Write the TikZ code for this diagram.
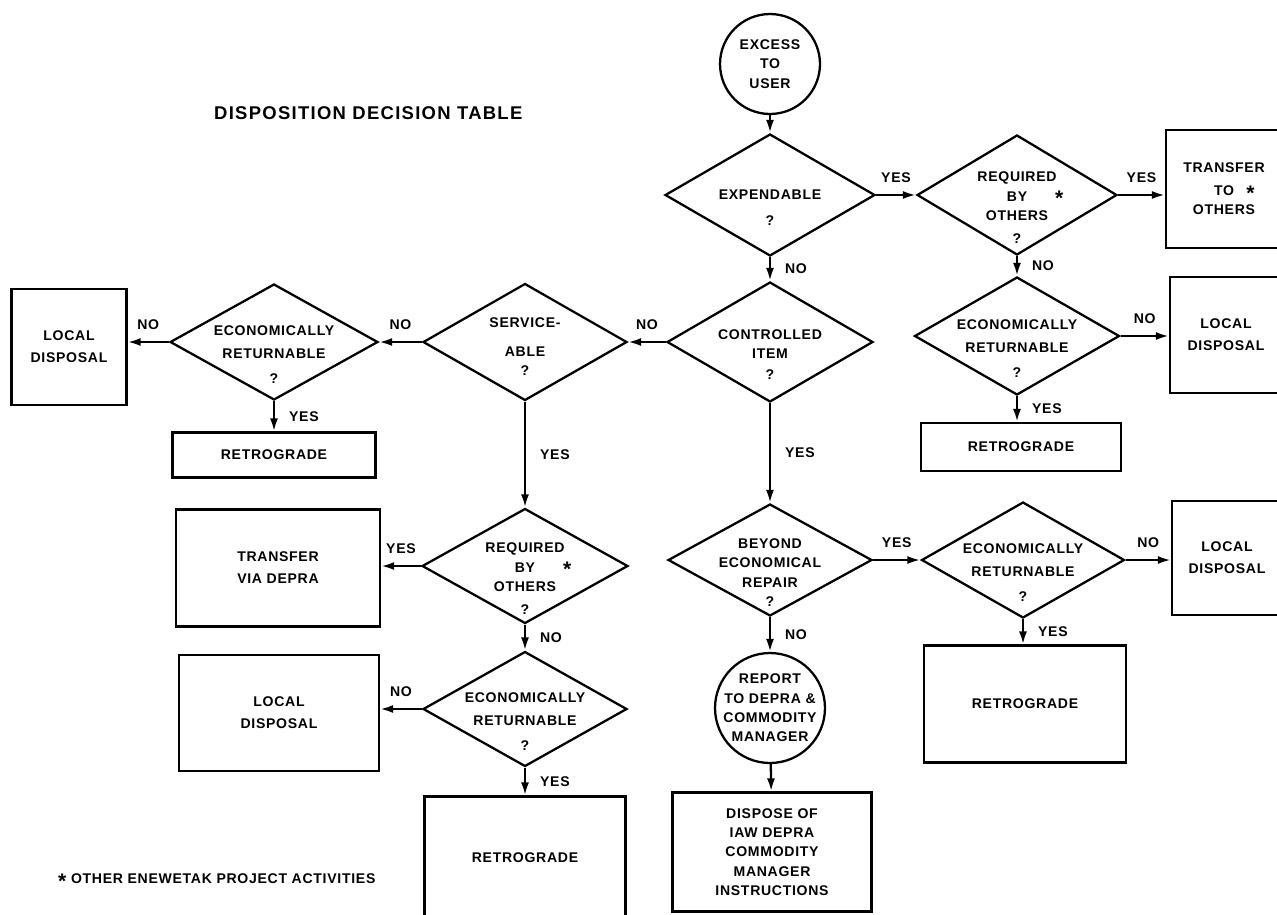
\documentclass[tikz,border=0pt]{standalone}
\usepackage{fontspec}
\newfontfamily\lblfont[LetterSpace=5]{Liberation Sans}
\newfontfamily\ttlfont[LetterSpace=7]{Liberation Sans}
\usetikzlibrary{shapes.geometric, arrows.meta}
\newcommand\lbl{\lblfont\bfseries\fontsize{8}{11}\selectfont}
\newcommand\ttlstyle{\ttlfont\bfseries\fontsize{10.5}{12}\selectfont}
\newcommand\starmark{\raisebox{-2.6pt}[4pt][0pt]{\fontsize{12}{12}\selectfont *}}
\newcommand\qtop[1][20pt]{\rule{0pt}{#1}}

\begin{document}
\begin{tikzpicture}[x=0.02cm, y=-0.02cm,
    every node/.style={font=\lbl},
    dec/.style={diamond, draw, line width=1.3pt, inner sep=-3cm, align=center},
    box/.style={rectangle, draw, line width=1.3pt, inner sep=0pt, align=center},
    term/.style={circle, draw, line width=1.3pt, inner sep=-4pt, align=center},
    arr/.style={-{Latex[length=0.26cm, width=0.16cm]}, line width=1.3pt},
    lab/.style={inner sep=0pt}
  ]
  \useasboundingbox (0,0) rectangle (1277,914);

  \node[anchor=west, font=\ttlstyle] (title) at (208,113) {DISPOSITION DECISION TABLE};

  % middle column
  \node[term, minimum size=2cm] (start) at (770,64) {EXCESS\\TO\\USER};
  \node[dec, minimum width=4.2cm, minimum height=2.44cm] (exp) at (770,195) {\qtop EXPENDABLE\\[4pt]?};
  \node[dec, minimum width=4.12cm, minimum height=2.4cm] (ctrl) at (770,342) {\qtop CONTROLLED\\ITEM\\[1pt]?};
  \node[dec, minimum width=4.08cm, minimum height=2.24cm] (beyond) at (770,560) {\qtop BEYOND\\ECONOMICAL\\REPAIR\\?};
  \node[term, minimum size=2.2cm] (report) at (770,708) {REPORT\\TO DEPRA \&\\COMMODITY\\MANAGER};
  \node[box, minimum width=3.98cm, minimum height=2.38cm] (dispose) at (772,852) {DISPOSE OF\\IAW DEPRA\\COMMODITY\\MANAGER\\INSTRUCTIONS};

  % right upper
  \node[dec, minimum width=4cm, minimum height=2.4cm] (req1) at (1017,195) {\qtop REQUIRED\\BY\rlap{\hspace{16pt}\starmark}\\OTHERS\\[2pt]?};
  \node[box, minimum width=2.32cm, minimum height=2.36cm] (transfer1) at (1224,189) {TRANSFER\\[2pt]TO\rlap{\hspace{7pt}\starmark}\\OTHERS};
  \node[dec, minimum width=4.1cm, minimum height=2.36cm] (econR1) at (1017,336) {\qtop ECONOMICALLY\\[2pt]RETURNABLE\\[3pt]?};
  \node[box, minimum width=2.24cm, minimum height=2.32cm] (localR1) at (1226,335) {LOCAL\\[1.5pt]DISPOSAL};
  \node[box, minimum width=4cm, minimum height=0.96cm] (retroR1) at (1021,447) {RETROGRADE};

  % right lower
  \node[dec, minimum width=4.06cm, minimum height=2.32cm] (econR2) at (1023,560) {\qtop ECONOMICALLY\\[2pt]RETURNABLE\\[3pt]?};
  \node[box, minimum width=2.2cm, minimum height=2.28cm] (localR2) at (1227,558) {LOCAL\\[1.5pt]DISPOSAL};
  \node[box, minimum width=4.04cm, minimum height=2.34cm] (retroR2) at (1025,704) {RETROGRADE};

  % left upper
  \node[dec, minimum width=4.08cm, minimum height=2.34cm] (serv) at (525,342) {\qtop[11pt]SERVICE-\\[5pt]ABLE\\?};
  \node[dec, minimum width=4.16cm, minimum height=2.32cm] (econL1) at (274,342) {\qtop ECONOMICALLY\\[2pt]RETURNABLE\\[3pt]?};
  \node[box, minimum width=2.3cm, minimum height=2.32cm] (localL1) at (69,347) {LOCAL\\[1.5pt]DISPOSAL};
  \node[box, minimum width=4.06cm, minimum height=0.9cm] (retroL1) at (274,455) {RETROGRADE};

  % left lower
  \node[dec, minimum width=4.12cm, minimum height=2.3cm] (req2) at (525,566) {\qtop REQUIRED\\BY\rlap{\hspace{16pt}\starmark}\\OTHERS\\[2pt]?};
  \node[box, minimum width=4.08cm, minimum height=2.34cm] (transferL) at (278,568) {TRANSFER\\[1.5pt]VIA DEPRA};
  \node[dec, minimum width=4.08cm, minimum height=2.3cm] (econL2) at (525,709) {\qtop ECONOMICALLY\\[2pt]RETURNABLE\\[3pt]?};
  \node[box, minimum width=4cm, minimum height=2.32cm] (localL2) at (279,713) {LOCAL\\[1.5pt]DISPOSAL};
  \node[box, minimum width=4.02cm, minimum height=2.46cm] (retroL2) at (525,858) {RETROGRADE};

  \node[anchor=west] (note) at (52,879) {\starmark\ OTHER ENEWETAK PROJECT ACTIVITIES};

  % connectors
  \draw[arr] (start) -- (exp);
  \draw[arr] (exp) -- node[lab, above=0.22cm] {YES} (req1);
  \draw[arr] (req1.east) -- node[lab, above=0.22cm] {YES} (req1.east -| transfer1.west);
  \draw[arr] (exp) -- node[lab, right=0.28cm] {NO} (ctrl);
  \draw[arr] (req1) -- node[lab, right=0.28cm] {NO} (econR1);
  \draw[arr] (econR1.east) -- node[lab, above=0.22cm] {NO} (econR1.east -| localR1.west);
  \draw[arr] (econR1.south) -- node[lab, right=0.28cm] {YES} (econR1.south |- retroR1.north);
  \draw[arr] (ctrl) -- node[lab, above=0.22cm] {NO} (serv);
  \draw[arr] (serv) -- node[lab, above=0.22cm] {NO} (econL1);
  \draw[arr] (econL1.west) -- node[lab, above=0.22cm] {NO} (econL1.west -| localL1.east);
  \draw[arr] (econL1) -- node[lab, right=0.28cm] {YES} (retroL1);
  \draw[arr] (serv) -- node[lab, right=0.28cm] {YES} (req2);
  \draw[arr] (ctrl) -- node[lab, right=0.28cm] {YES} (beyond);
  \draw[arr] (req2.west) -- node[lab, above=0.22cm] {YES} (req2.west -| transferL.east);
  \draw[arr] (req2) -- node[lab, right=0.28cm] {NO} (econL2);
  \draw[arr] (econL2.west) -- node[lab, above=0.22cm] {NO} (econL2.west -| localL2.east);
  \draw[arr] (econL2) -- node[lab, right=0.28cm] {YES} (retroL2);
  \draw[arr] (beyond) -- node[lab, above=0.22cm] {YES} (econR2);
  \draw[arr] (econR2.east) -- node[lab, above=0.22cm] {NO} (econR2.east -| localR2.west);
  \draw[arr] (econR2.south) -- node[lab, right=0.28cm] {YES} (econR2.south |- retroR2.north);
  \draw[arr] (beyond) -- node[lab, right=0.28cm] {NO} (report);
  \draw[arr] (report) -- (dispose);
\end{tikzpicture}
\end{document}
